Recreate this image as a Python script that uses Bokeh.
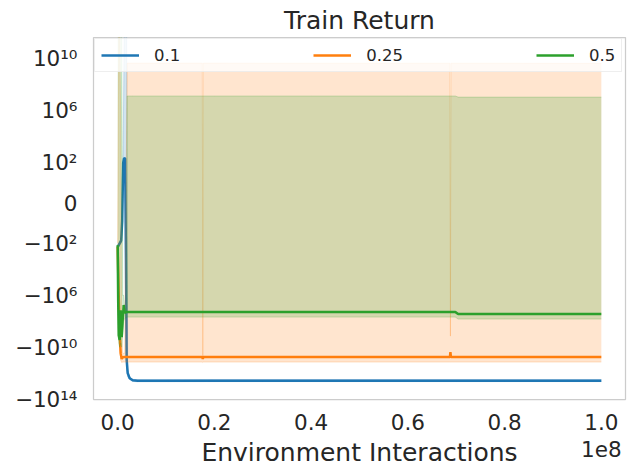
import numpy as np
from bokeh.plotting import figure
from bokeh.models import Range1d, FixedTicker, Legend, LegendItem, LinearAxis
from bokeh.embed import file_html
from bokeh.resources import INLINE

# ---------------- data ----------------
x_blue = [0, 4.1e5, 7.2e5, 9.3e5, 1.14e6, 1.34e6, 1.55e6, 1.71e6, 1.86e6, 2.07e6, 2.48e6,
          3.1e6, 4.1e6, 1e7, 2e7, 3e7, 4e7, 5e7, 6e7, 7e7, 8e7, 9e7, 1e8]
blue_mean = [-190, -100, -60, -2, 100, 230, 200, -1e3, -1e11, -1e12, -2.5e12,
             -3.6e12, -3.9e12, -3.9e12, -3.8e12, -3.8e12, -3.8e12, -3.8e12, -3.8e12, -3.8e12, -3.8e12, -3.8e12, -3.8e12]
blue_upper = [-150, -70, -40, 5, 1e3, 1e12, 1e12, 1e12, 1e12, -5e11, -2e12,
              -3.0e12, -3.2e12, -3.2e12, -3.1e12, -3.1e12, -3.1e12, -3.1e12, -3.1e12, -3.1e12, -3.1e12, -3.1e12, -3.1e12]
blue_lower = [-250, -140, -90, -10, 50, 150, 100, -1e6, -5e11, -2e12, -3e12,
              -4.4e12, -4.6e12, -4.6e12, -4.5e12, -4.5e12, -4.5e12, -4.5e12, -4.5e12, -4.5e12, -4.5e12, -4.5e12, -4.5e12]

x_orange = [0, 2.1e5, 4.1e5, 6.2e5, 8.3e5, 1.03e6, 1.45e6, 1.96e6, 3e6, 1e7, 1.75e7, 1.76e7, 1.77e7,
            3e7, 4e7, 5e7, 6e7, 6.87e7, 6.88e7, 6.89e7, 8e7, 9e7, 1e8]
orange_mean = [-190, -1e6, -1e9, -3e10, -8e10, -6e10, -5.8e10, -5.8e10, -5.8e10, -5.8e10, -5.8e10, -8e10, -5.8e10,
               -5.8e10, -5.7e10, -5.7e10, -5.7e10, -5.7e10, -2.4e10, -5.7e10, -5.7e10, -5.7e10, -5.7e10]
orange_upper = [-100, 1e12, 1e12, 1e6, -1e9, -3e10, -3e10, 4.8e9, 4.8e9, 4.8e9, 4.8e9, -6e10, 4.8e9,
                4.7e9, 4.7e9, 4.7e9, 4.7e9, 4.7e9, -1.4e9, 4.7e9, 4.7e9, 4.6e9, 4.6e9]
orange_lower = [-300, -1e7, -1e10, -1e11, -1.5e11, -1.4e11, -1.4e11, -1.4e11, -1.4e11, -1.4e11, -1.4e11, -1.5e11, -1.4e11,
                -1.4e11, -1.4e11, -1.4e11, -1.4e11, -1.4e11, -1.4e11, -1.4e11, -1.4e11, -1.4e11, -1.4e11]

x_green = [0, 1e5, 2.1e5, 4.1e5, 6.2e5, 8.3e5, 1.03e6, 1.25e6, 1.45e6, 1.86e6, 1.96e6, 3e6, 1e7,
           2e7, 3e7, 4e7, 5e7, 6e7, 6.98e7, 7.04e7, 8e7, 9e7, 1e8]
green_mean = [-135, -2e6, -1.2e9, -2.8e9, -1.4e7, -1.7e9, -8e7, -5.6e6, -2.3e7, -1.9e7, -1.9e7, -1.9e7, -1.9e7,
              -1.9e7, -1.9e7, -1.9e7, -1.9e7, -1.9e7, -1.9e7, -2.8e7, -2.8e7, -2.8e7, -2.8e7]
green_upper = [1e12, 1e12, 1e12, 1e12, 1e12, 1e12, -1e6, -1e6, -1e7, -1.5e7, 1.4e7, 1.4e7, 1.4e7,
               1.4e7, 1.4e7, 1.4e7, 1.4e7, 1.4e7, 1.4e7, 1.15e7, 1.15e7, 1.15e7, 1.15e7]
green_lower = [-200, -1e7, -5e9, -1e10, -5e9, -1e10, -1e9, -1e8, -6e7, -5e7, -4.8e7, -4.8e7, -4.8e7,
               -4.8e7, -4.8e7, -4.8e7, -4.8e7, -4.8e7, -4.8e7, -6.8e7, -6.8e7, -6.8e7, -6.8e7]

labels = ["0.1", "0.25", "0.5"]
colors = ["#1f77b4", "#ff7f0e", "#2ca02c"]

x_ticks = [0, 2e7, 4e7, 6e7, 8e7, 1e8]
x_tick_labels = ["0.0", "0.2", "0.4", "0.6", "0.8", "1.0"]
x_offset_tick = 1e8
x_offset_text = "1e8"
y_tick_values = [1e10, 1e6, 1e2, 0, -1e2, -1e6, -1e10, -1e14]
y_tick_labels = ["10\u00b9\u2070", "10\u2076", "10\u00b2", "0",
                 "\u221210\u00b2", "\u221210\u2076", "\u221210\u00b9\u2070", "\u221210\u00b9\u2074"]


def symlog(v):
    """symmetric log transform (linthresh 1), scaled so decade ticks fall on integers"""
    v = np.asarray(v, dtype=float)
    a = np.abs(v)
    return np.where(a >= 1, np.sign(v) * (10 + 9 * np.log10(np.maximum(a, 1))), 10 * v)


FONT = "DejaVu Sans"
TXT = "#262626"

p = figure(width=635, height=475, output_backend="svg", toolbar_location=None,
           x_range=Range1d(-0.05e8, 1.05e8), y_range=Range1d(-136.3, 114.9),
           min_border_left=93, min_border_right=10, min_border_top=37, min_border_bottom=76)
p.background_fill_color = "white"
p.border_fill_color = "white"
p.xgrid.visible = False
p.ygrid.visible = False
p.outline_line_color = "#cccccc"
p.outline_line_width = 1.25

p.title.text = "Train Return"
p.title.align = "center"
p.title.text_font = FONT
p.title.text_font_size = "25px"
p.title.text_font_style = "normal"
p.title.text_color = TXT
p.title.standoff = 5

series = [
    (x_blue, blue_mean, blue_upper, blue_lower),
    (x_orange, orange_mean, orange_upper, orange_lower),
    (x_green, green_mean, green_upper, green_lower),
]
line_renderers = []
for (xs, m, up, lo), c in zip(series, colors):
    r = p.line(xs, symlog(m), line_color=c, line_width=2.5)
    line_renderers.append(r)
    p.varea(x=xs, y1=symlog(lo), y2=symlog(up), fill_color=c, fill_alpha=0.2)
    p.line(xs, symlog(up), line_color=c, line_alpha=0.22, line_width=1)
    p.line(xs, symlog(lo), line_color=c, line_alpha=0.22, line_width=1)

# axes
for ax in (p.xaxis, p.yaxis):
    ax.axis_line_color = None
    ax.major_tick_line_color = None
    ax.minor_tick_line_color = None
    ax.major_label_text_font = FONT
    ax.major_label_text_font_size = "21.5px"
    ax.major_label_text_color = TXT

p.xaxis.ticker = FixedTicker(ticks=x_ticks)
p.xaxis.major_label_overrides = {t: l for t, l in zip(x_ticks, x_tick_labels)}
p.xaxis.major_label_standoff = 8
p.xaxis.axis_label = "Environment Interactions"
p.xaxis.axis_label_text_font = FONT
p.xaxis.axis_label_text_font_size = "25px"
p.xaxis.axis_label_text_font_style = "normal"
p.xaxis.axis_label_text_color = TXT
p.xaxis.axis_label_standoff = 5

# offset text "1e8" (scientific multiplier), drawn as a second bottom axis pulled up
off_axis = LinearAxis(ticker=FixedTicker(ticks=[x_offset_tick]),
                      major_label_overrides={x_offset_tick: x_offset_text})
off_axis.axis_line_color = None
off_axis.major_tick_line_color = None
off_axis.minor_tick_line_color = None
off_axis.major_label_text_font = FONT
off_axis.major_label_text_font_size = "21.5px"
off_axis.major_label_text_color = TXT
off_axis.major_label_standoff = -35
p.add_layout(off_axis, "below")

y_ticks = [float(v) for v in symlog(y_tick_values)]
p.yaxis.ticker = FixedTicker(ticks=y_ticks)
p.yaxis.major_label_overrides = {t: l for t, l in zip(y_ticks, y_tick_labels)}
p.yaxis.major_label_standoff = 10

legend = Legend(items=[LegendItem(label=l, renderers=[r]) for l, r in zip(labels, line_renderers)],
                location="top_left", orientation="horizontal")
legend.margin = 1
legend.padding = 6
legend.spacing = 133
legend.glyph_width = 38
legend.glyph_height = 20
legend.label_height = 20
legend.label_standoff = 15
legend.label_text_font = FONT
legend.label_text_font_size = "16.5px"
legend.label_text_color = TXT
legend.border_line_color = "#dddddd"
legend.border_line_width = 1
legend.background_fill_color = "white"
legend.background_fill_alpha = 0.8
p.add_layout(legend)

open("out.html", "w").write(file_html(p, INLINE))
